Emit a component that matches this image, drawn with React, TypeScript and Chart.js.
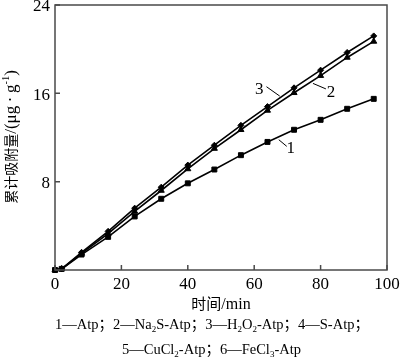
import { useEffect, useRef } from "react";
import { Chart, registerables } from "chart.js";
Chart.register(...registerables);

const times = [0, 2, 8, 16, 24, 32, 40, 48, 56, 64, 72, 80, 88, 96];
const series1 = [0, 0.1, 1.4, 3.0, 4.85, 6.45, 7.85, 9.1, 10.4, 11.6, 12.7, 13.6, 14.6, 15.5];
const series2 = [0, 0.1, 1.5, 3.3, 5.3, 7.2, 9.15, 11.0, 12.7, 14.45, 16.05, 17.6, 19.25, 20.7];
const series3 = [0, 0.1, 1.6, 3.5, 5.6, 7.5, 9.5, 11.3, 13.1, 14.8, 16.5, 18.1, 19.7, 21.2];
const seriesNames = ["1—Atp", "2—Na2S-Atp", "3—H2O2-Atp"];
const xTickValues = [0, 20, 40, 60, 80, 100];
const yTickValues = [0, 8, 16, 24];
const xTitle = "时间/min";
const yTitle = "累计吸附量/(μg·g^{-1})";
const captionLines = [
  "1—Atp；2—Na_2S-Atp；3—H_2O_2-Atp；4—S-Atp；",
  "5—CuCl_2-Atp；6—FeCl_3-Atp",
];
const callouts = [
  { label: "3", x: 61.5, y: 16.3, from: [63.7, 16.6], to: [67.7, 15.75] },
  { label: "2", x: 83.1, y: 16.1, from: [81.6, 16.4], to: [77.7, 16.9] },
  { label: "1", x: 71.0, y: 11.0, from: [69.8, 11.2], to: [67.4, 11.8] },
];

const SERIF = '"Liberation Serif", "Times New Roman", serif';
const CJK = '"Noto Sans CJK SC", sans-serif';

type Seg = { t: string; k: "n" | "sub" | "sup" };
function parseRich(s: string): Seg[] {
  const out: Seg[] = [];
  let i = 0;
  let buf = "";
  while (i < s.length) {
    const c = s[i];
    if (c === "_") {
      if (buf) out.push({ t: buf, k: "n" });
      buf = "";
      out.push({ t: s[i + 1], k: "sub" });
      i += 2;
    } else if (c === "^" && s[i + 1] === "{") {
      if (buf) out.push({ t: buf, k: "n" });
      buf = "";
      const j = s.indexOf("}", i);
      out.push({ t: s.slice(i + 2, j), k: "sup" });
      i = j + 1;
    } else {
      buf += c;
      i++;
    }
  }
  if (buf) out.push({ t: buf, k: "n" });
  return out;
}

function isCJK(ch: string) {
  return ch.charCodeAt(0) >= 0x2e80;
}

function drawRich(
  ctx: CanvasRenderingContext2D,
  s: string,
  x: number,
  y: number,
  size: number,
  latinSize: number,
  measureOnly = false,
  wideDot = false
): number {
  const segs = parseRich(s);
  let cx = x;
  for (const seg of segs) {
    for (const ch of seg.t) {
      const base = isCJK(ch) ? size : latinSize;
      const sz = seg.k === "n" ? base : base * 0.62;
      const dy = seg.k === "sub" ? base * 0.22 : seg.k === "sup" ? -base * 0.42 : 0;
      ctx.font = `${sz}px ${isCJK(ch) ? CJK : SERIF}`;
      let w = ctx.measureText(ch).width;
      if (wideDot && ch === "·") {
        const cell = sz * 0.75;
        if (!measureOnly) ctx.fillText(ch, cx + (cell - w) / 2, y + dy);
        cx += cell;
        continue;
      }
      if (!measureOnly) ctx.fillText(ch, cx, y + dy);
      cx += w;
    }
  }
  return cx - x;
}

const decorPlugin = {
  id: "decor",
  afterDraw(chart: any) {
    const { ctx, chartArea: a, scales } = chart;
    const xs = scales.x;
    const ys = scales.y;
    ctx.save();
    // frame
    ctx.strokeStyle = "#4a4a4a";
    ctx.lineWidth = 1.5;
    ctx.strokeRect(a.left, a.top, a.right - a.left, a.bottom - a.top);
    // inward ticks
    ctx.beginPath();
    for (const v of xTickValues) {
      const px = xs.getPixelForValue(v);
      ctx.moveTo(px, a.bottom);
      ctx.lineTo(px, a.bottom - 5);
    }
    for (const v of yTickValues) {
      const py = ys.getPixelForValue(v);
      ctx.moveTo(a.left, py);
      ctx.lineTo(a.left + 5, py);
    }
    ctx.stroke();
    // callouts
    ctx.strokeStyle = "#000";
    ctx.lineWidth = 1;
    ctx.fillStyle = "#000";
    ctx.textAlign = "center";
    ctx.textBaseline = "middle";
    ctx.font = `17px ${SERIF}`;
    for (const c of callouts) {
      ctx.beginPath();
      ctx.moveTo(xs.getPixelForValue(c.from[0]), ys.getPixelForValue(c.from[1]));
      ctx.lineTo(xs.getPixelForValue(c.to[0]), ys.getPixelForValue(c.to[1]));
      ctx.stroke();
      ctx.fillText(c.label, xs.getPixelForValue(c.x), ys.getPixelForValue(c.y));
    }
    // titles
    ctx.textAlign = "left";
    ctx.textBaseline = "alphabetic";
    const xw = drawRich(ctx, xTitle, 0, 0, 15, 16, true);
    drawRich(ctx, xTitle, (a.left + a.right) / 2 - xw / 2, 309, 15, 16);
    ctx.save();
    ctx.translate(16, 137);
    ctx.rotate(-Math.PI / 2);
    const yw = drawRich(ctx, yTitle, 0, 0, 14, 17, true, true);
    drawRich(ctx, yTitle, -yw / 2, 0, 14, 17, false, true);
    ctx.restore();
    // caption
    drawRich(ctx, captionLines[0], 55, 329, 14.5, 14.5);
    drawRich(ctx, captionLines[1], 122, 354, 14.5, 14.5);
    ctx.restore();
  },
};

export default function App() {
  const ref = useRef<HTMLCanvasElement>(null);
  useEffect(() => {
    if (!ref.current) return;
    const mk = (label: string, data: number[], style: any, r: number) => ({
      label,
      data: times.map((t, i) => ({ x: t, y: data[i] })),
      borderColor: "#000",
      backgroundColor: "#000",
      borderWidth: 1.6,
      pointStyle: style,
      pointRadius: r,
      pointBorderWidth: 1,
      clip: false as any,
    });
    const chart = new Chart(ref.current, {
      type: "line",
      data: {
        datasets: [
          mk(seriesNames[0], series1, "rect", 3.5),
          mk(seriesNames[1], series2, "triangle", 3.5),
          mk(seriesNames[2], series3, "rectRot", 3),
        ],
      },
      options: {
        responsive: false,
        animation: false,
        devicePixelRatio: 1,
        layout: { padding: { top: 5, right: 13, left: 0, bottom: 0 } },
        plugins: { legend: { display: false }, tooltip: { enabled: false } },
        scales: {
          x: {
            type: "linear",
            min: 0,
            max: 100,
            ticks: { stepSize: 20, color: "#000", font: { family: SERIF, size: 17 }, padding: 4, maxRotation: 0 },
            grid: { display: false, drawTicks: false },
            border: { display: false },
            afterFit: (s: any) => {
              s.height = 91;
              s.paddingLeft = 0;
              s.paddingRight = 0;
            },
          },
          y: {
            type: "linear",
            min: 0,
            max: 24,
            ticks: {
              stepSize: 8,
              color: "#000",
              font: { family: SERIF, size: 17 },
              padding: 5,
              labelOffset: 2,
              callback: (v: any) => (v === 0 ? "" : String(v)),
            },
            grid: { display: false, drawTicks: false },
            border: { display: false },
            afterFit: (s: any) => {
              s.width = 55;
              s.paddingTop = 0;
              s.paddingBottom = 0;
            },
          },
        },
      },
      plugins: [decorPlugin],
    });
    return () => chart.destroy();
  }, []);
  return (
    <div style={{ position: "absolute", left: 0, top: 0, width: 400, height: 361, background: "#fff" }}>
      <canvas ref={ref} width={400} height={361} />
    </div>
  );
}
